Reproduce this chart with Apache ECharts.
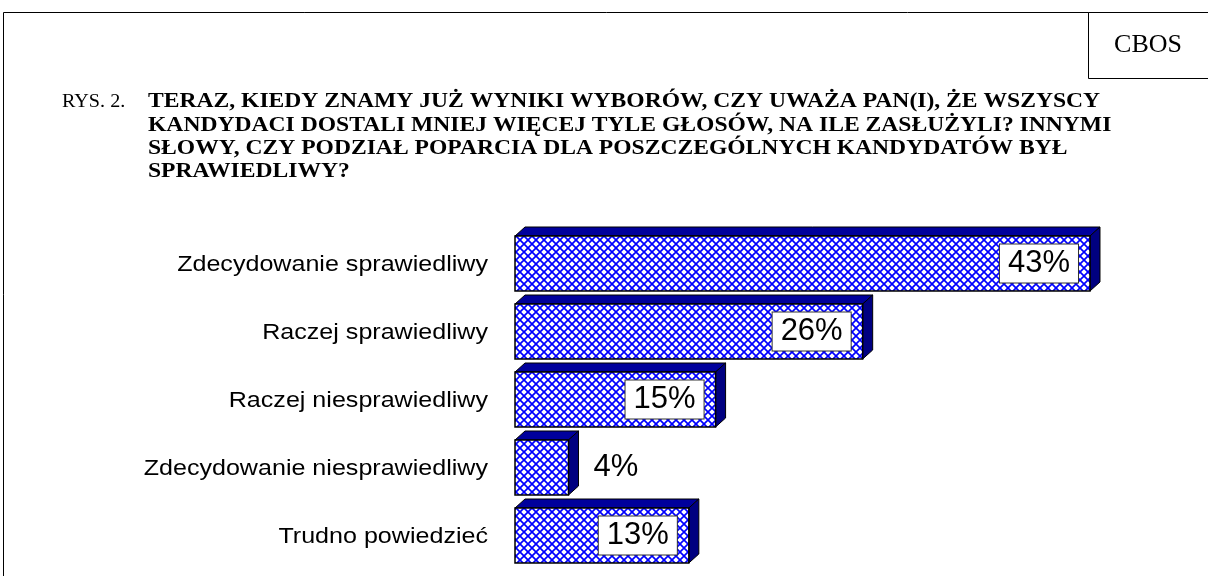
<!DOCTYPE html>
<html>
<head>
<meta charset="utf-8">
<script src="https://cdn.jsdelivr.net/npm/echarts@6/dist/echarts.min.js"></script>
<style>
html,body{margin:0;padding:0;background:#fff;}
#chart{width:1208px;height:576px;}
</style>
</head>
<body>
<div id="chart"></div>
<script>
// ---- data ----
const categories = [
  'Zdecydowanie sprawiedliwy',
  'Raczej sprawiedliwy',
  'Raczej niesprawiedliwy',
  'Zdecydowanie niesprawiedliwy',
  'Trudno powiedzieć'
];
const values = [43, 26, 15, 4, 13];
const figureLabel = 'RYS. 2.';
const titleLines = [
  'TERAZ, KIEDY ZNAMY JUŻ WYNIKI WYBORÓW, CZY UWAŻA PAN(I), ŻE WSZYSCY',
  'KANDYDACI DOSTALI MNIEJ WIĘCEJ TYLE GŁOSÓW, NA ILE ZASŁUŻYLI? INNYMI',
  'SŁOWY, CZY PODZIAŁ POPARCIA DLA POSZCZEGÓLNYCH KANDYDATÓW BYŁ',
  'SPRAWIEDLIWY?'
];
const sourceLabel = 'CBOS';

// ---- pattern ----
function makePattern() {
  const c = document.createElement('canvas');
  c.width = 8; c.height = 8;
  const g = c.getContext('2d');
  g.fillStyle = '#ffffff';
  g.fillRect(0, 0, 8, 8);
  g.strokeStyle = '#0000ff';
  g.lineWidth = 1.7;
  g.beginPath();
  g.moveTo(-2, -2); g.lineTo(10, 10);
  g.moveTo(10, -2); g.lineTo(-2, 10);
  g.stroke();
  return c;
}
const pattern = { image: makePattern(), repeat: 'repeat' };

const DX = 10, DY = 9;
const STRETCH = 1.14;

const chart = echarts.init(document.getElementById('chart'), null, { renderer: 'canvas' });

const option = {
  backgroundColor: '#ffffff',
  animation: false,
  grid: { left: 515, right: 24.4, top: 229.5, bottom: 6.5 },
  xAxis: { type: 'value', min: 0, max: 50, show: false },
  yAxis: {
    type: 'category',
    data: categories,
    inverse: true,
    axisLine: { show: false },
    axisTick: { show: false },
    splitLine: { show: false },
    axisLabel: { show: false }
  },
  graphic: [
    { type: 'polyline', shape: { points: [[3.5, 600], [3.5, 12.5], [1220, 12.5]] },
      style: { stroke: '#000', lineWidth: 1, fill: null } },
    { type: 'rect', shape: { x: 1088.5, y: 12.5, width: 140, height: 66 },
      style: { stroke: '#000', lineWidth: 1, fill: '#fff' } },
    { type: 'text', x: 1148, y: 45,
      style: { text: sourceLabel, font: '26px "Liberation Serif", "Times New Roman", serif',
        fill: '#000', align: 'center', verticalAlign: 'middle' } },
    { type: 'text', x: 62, y: 102, scaleX: 1.06,
      style: { text: figureLabel, font: '19px "Liberation Serif", "Times New Roman", serif',
        fill: '#000', align: 'left', verticalAlign: 'middle' } },
    { type: 'text', x: 148, y: 90.5, scaleX: 1.163,
      style: { text: titleLines.join('\n'), font: 'bold 20.3px "Liberation Serif", "Times New Roman", serif',
        lineHeight: 23.3, fill: '#000', align: 'left', verticalAlign: 'top' } }
  ],
  series: [{
    type: 'custom',
    encode: { x: 0, y: 1 },
    data: values.map((v, i) => [v, i]),
    renderItem: function (params, api) {
      const v = api.value(0), idx = api.value(1);
      const p0 = api.coord([0, idx]);
      const p1 = api.coord([v, idx]);
      const band = api.size([0, 1])[1];
      const h = band * 55 / 68;
      const x0 = p0[0], x1 = p1[0];
      const yT = p0[1] - h / 2, yB = p0[1] + h / 2, yc = p0[1];
      const children = [
        { type: 'text', x: x0 - 27, y: yc + 1, scaleX: STRETCH,
          style: { text: categories[idx], font: '22px "Liberation Sans", Arial, sans-serif',
            fill: '#000', align: 'right', verticalAlign: 'middle' } },
        { type: 'polygon', shape: { points: [[x0, yT], [x0 + DX, yT - DY], [x1 + DX, yT - DY], [x1, yT]] },
          style: { fill: '#00009c', stroke: '#000', lineWidth: 1 } },
        { type: 'polygon', shape: { points: [[x1, yT], [x1 + DX, yT - DY], [x1 + DX, yB - DY], [x1, yB]] },
          style: { fill: '#000080', stroke: '#000', lineWidth: 1 } },
        { type: 'rect', shape: { x: x0, y: yT, width: x1 - x0, height: h },
          style: { fill: pattern, stroke: '#000', lineWidth: 1.5 } }
      ];
      const txt = v + '%';
      if (v >= 10) {
        children.push({ type: 'text', x: x1 - 12, y: yc,
          style: { text: txt, font: '31px "Liberation Sans", Arial, sans-serif', fill: '#000',
            align: 'right', verticalAlign: 'middle', backgroundColor: '#fff',
            borderColor: '#333', borderWidth: 1, padding: [4, 8, 3, 8] } });
      } else {
        children.push({ type: 'text', x: x1 + DX + 15, y: yc,
          style: { text: txt, font: '31px "Liberation Sans", Arial, sans-serif', fill: '#000',
            align: 'left', verticalAlign: 'middle' } });
      }
      return { type: 'group', children: children };
    }
  }]
};
chart.setOption(option);
</script>
</body>
</html>
